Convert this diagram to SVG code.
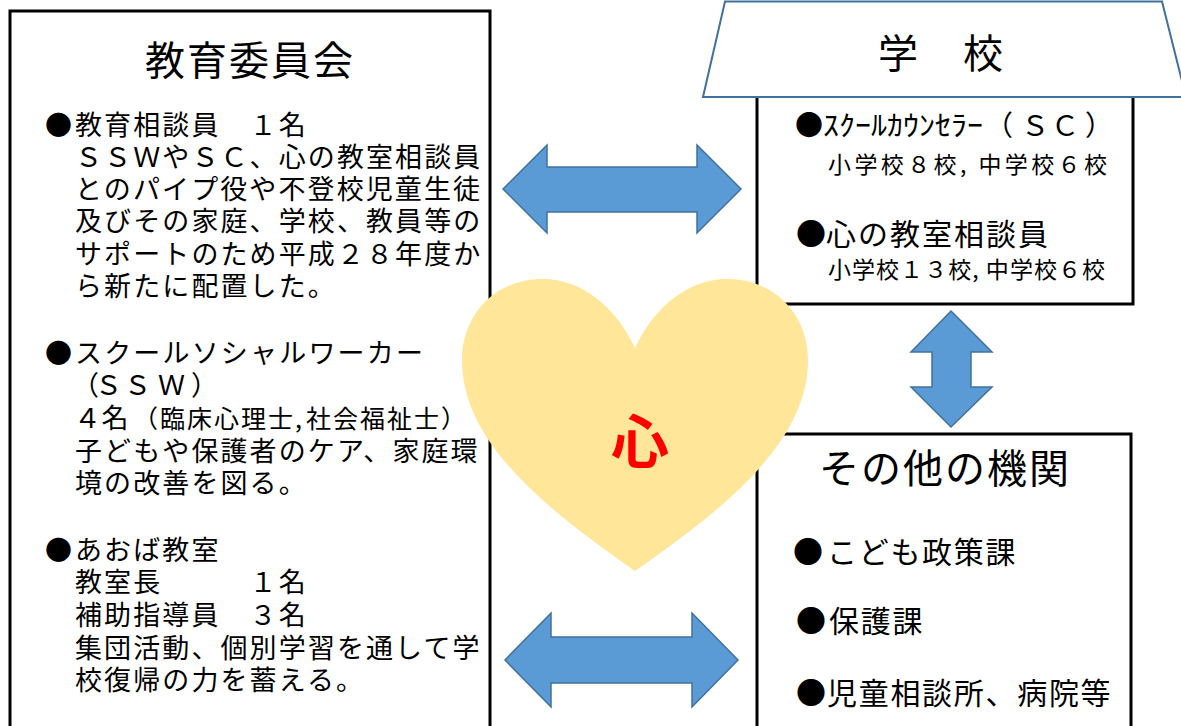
<svg xmlns="http://www.w3.org/2000/svg" width="1181" height="726" viewBox="0 0 1181 726">
<style>
text{font-family:"Noto Sans CJK JP","Noto Sans CJK SC",sans-serif;fill:#000}
.box{fill:#fff;stroke:#000;stroke-width:3}
.roof{fill:#fff;stroke:#41719C;stroke-width:2}
.arrow{fill:#5B9BD5;stroke:#41719C;stroke-width:1.5}
.title{font-size:40px;letter-spacing:2px}
.body{font-size:27px;letter-spacing:2.1px}
.dot{font-size:27px}
.small{font-size:23px}
.mid{font-size:30px;letter-spacing:2px}
</style>
<rect width="1181" height="726" fill="#fff"/>
<g id="board">
<rect class="box" x="10" y="11" width="480" height="800"/>
<text class="title" x="145" y="75">教育委員会</text>
<text class="dot" x="45" y="135">●</text>
<text class="body" x="75" y="135">教育相談員　１名</text>
<text class="body" x="75" y="167">ＳＳＷやＳＣ、心の教室相談員</text>
<text class="body" x="75" y="199">とのパイプ役や不登校児童生徒</text>
<text class="body" x="75" y="231">及びその家庭、学校、教員等の</text>
<text class="body" x="75" y="264">サポートのため平成２８年度か</text>
<text class="body" x="75" y="296">ら新たに配置した。</text>
<text class="dot" x="45" y="363">●</text>
<text class="body" x="75" y="363" textLength="350">スクールソシャルワーカー</text>
<text class="body" x="72 95 124 158 191" y="395" style="letter-spacing:0">（ＳＳＷ）</text>
<text class="body" x="74" y="428" style="letter-spacing:0.5px">４名</text>
<text x="133" y="428" style="font-size:25px;letter-spacing:2px">（臨床心理士,</text>
<text x="306" y="428" style="font-size:25px;letter-spacing:2px">社会福祉士）</text>
<text class="body" x="75" y="461">子どもや保護者のケア、家庭環</text>
<text class="body" x="75" y="493">境の改善を図る。</text>
<text class="dot" x="45" y="560">●</text>
<text class="body" x="75" y="560">あおば教室</text>
<text class="body" x="75" y="592">教室長　　　１名</text>
<text class="body" x="75" y="625">補助指導員　３名</text>
<text class="body" x="75" y="658">集団活動、個別学習を通して学</text>
<text class="body" x="75" y="690">校復帰の力を蓄える。</text>
</g>
<g id="school">
<rect class="box" x="757" y="90" width="376" height="214"/>
<polygon class="roof" points="725,1.5 1162,1.5 1186,97 703,97"/>
<text class="title" x="878 963" y="68">学校</text>
<text x="795" y="136" style="font-size:28px">●</text>
<text x="823" y="136" style="font-size:28px" textLength="160" lengthAdjust="spacingAndGlyphs">ｽｸｰﾙｶｳﾝｾﾗｰ</text>
<text x="985 1021 1051 1085" y="136" style="font-size:28px">（ＳＣ）</text>
<text class="small" x="828" y="173" textLength="279">小学校８校, 中学校６校</text>
<text x="796" y="245" style="font-size:30px">●</text>
<text class="mid" x="826" y="245">心の教室相談員</text>
<text class="small" x="828" y="278" textLength="277">小学校１３校, 中学校６校</text>
</g>
<g id="others">
<rect class="box" x="757" y="434" width="374" height="400"/>
<text class="title" x="819" y="483">その他の機関</text>
<text x="793" y="563" style="font-size:30px">●</text>
<text class="mid" x="827" y="563" style="letter-spacing:1.7px">こども政策課</text>
<text x="796" y="632" style="font-size:30px">●</text>
<text class="mid" x="829" y="632" style="letter-spacing:1.7px">保護課</text>
<text x="796" y="704" style="font-size:30px">●</text>
<text class="mid" x="827" y="704" style="letter-spacing:1.7px">児童相談所、病院等</text>
</g>
<g id="connectors">
<polygon class="arrow" points="503,189 547,145 547,167 697,167 697,145 741,189 697,233 697,212 547,212 547,233"/>
<polygon class="arrow" points="505,660 551,613 551,637 692,637 692,613 738,660 692,707 692,683 551,683 551,707"/>
<polygon class="arrow" points="951,311 992,352 971,352 971,387 992,387 951,427 911,387 932,387 932,352 911,352"/>
</g>
<g id="heart">
<path d="M635,348 C615,305 580,279 543,279 C495,279 462,315 462,360 C462,440 540,505 635,571 C730,505 808,440 808,360 C808,315 775,279 727,279 C690,279 655,305 635,348 Z" fill="#FFE699"/>
<text x="640" y="463" text-anchor="middle" style="font-size:58px;font-weight:bold;fill:#FF0000">心</text>
</g>
</svg>
